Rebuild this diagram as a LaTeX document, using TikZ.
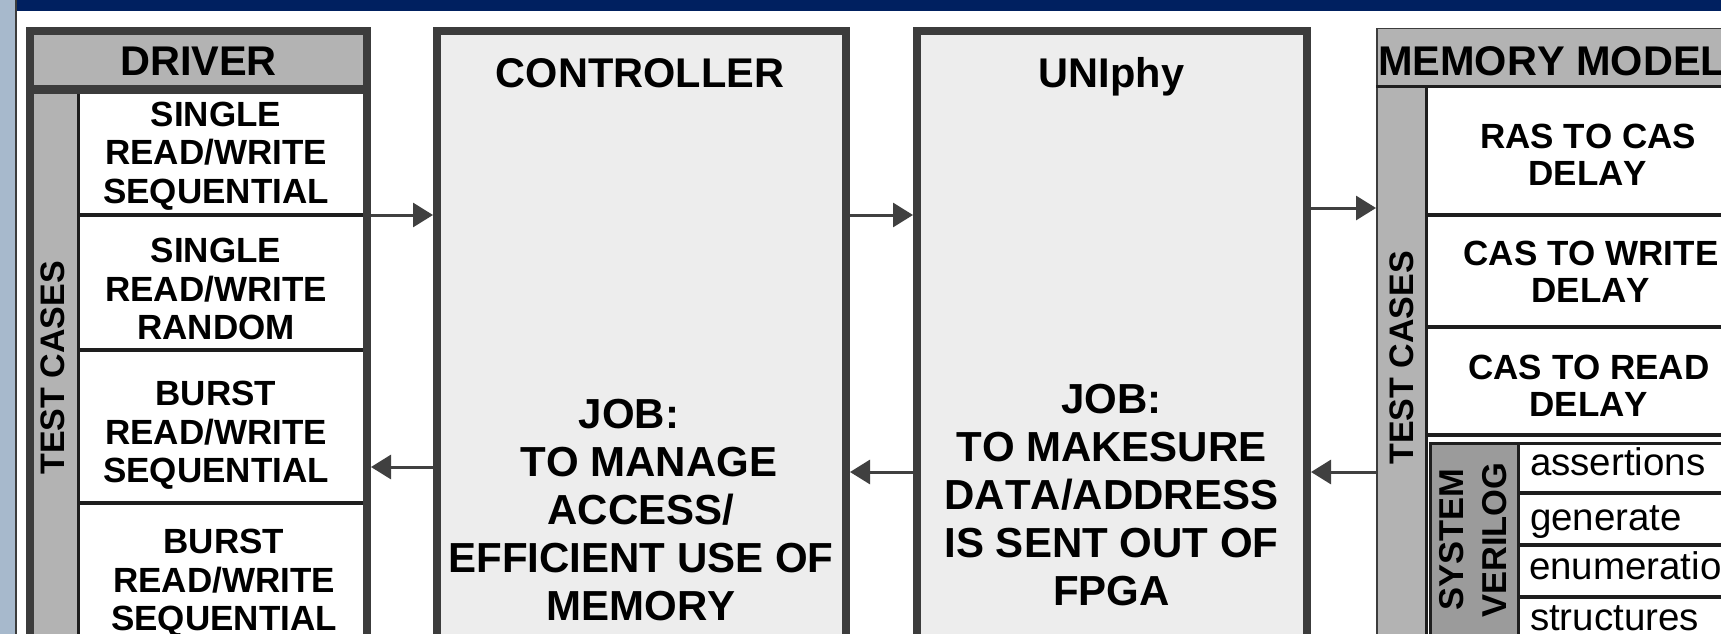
\documentclass[tikz,border=0pt]{standalone}
\usepackage{fontspec}
\setmainfont{Liberation Sans}[Kerning=Off]
\usetikzlibrary{arrows.meta}
\definecolor{navy}{HTML}{002060}
\definecolor{stripc}{HTML}{A7B9CC}
\definecolor{bdr}{HTML}{3C3C3C}
\definecolor{hdr}{HTML}{B3B3B3}
\definecolor{ctlfill}{HTML}{EDEDED}
\definecolor{svfill}{HTML}{9B9B9B}
\definecolor{sepc}{HTML}{1E1E1E}
\definecolor{arrc}{HTML}{404040}
\begin{document}
\begin{tikzpicture}[x=1pt,y=-1pt,
  every node/.style={inner sep=0pt,outer sep=0pt},
  bigbox/.style={draw=bdr,line width=8pt,outer sep=4pt,anchor=north west,minimum height=700pt},
  ttl/.style={anchor=base,font=\bfseries\fontsize{41.5}{47}\selectfont},
  rowtxt/.style={align=center,font=\bfseries\fontsize{35}{38.5}\selectfont},
  memtxt/.style={align=center,font=\bfseries\fontsize{35}{37}\selectfont},
  bodytxt/.style={align=center,font=\bfseries\fontsize{42}{48}\selectfont},
  vtxt/.style={rotate=90,font=\bfseries\fontsize{34}{40}\selectfont},
  svtxt/.style={anchor=base west,font=\fontsize{38.5}{40}\selectfont},
  sepline/.style={draw=sepc,line width=3.5pt},
  arr/.style={draw=arrc,line width=3pt,-{Triangle[length=20pt,width=24pt]}},
]
\useasboundingbox (0,0) rectangle (1721,634);
\clip (0,0) rectangle (1721,634);
\fill[white] (0,0) rectangle (1721,634);
% page decorations
\fill[stripc] (0,0) rectangle (15,634);
\fill[bdr] (15,0) rectangle (17,634);
\fill[navy] (17,0) rectangle (1721,11.5);

% ---------- DRIVER ----------
\node[bigbox,fill=white,minimum width=337pt] (drv) at (26,27) {};
\fill[hdr] (34,35) rectangle (363,85);
\fill[bdr] (34,85) rectangle (363,94);
\fill[hdr] (34,94) rectangle (77,700);
\fill[sepc] (77,94) rectangle (80,700);
\draw[sepline] (80,215) -- (363,215);
\draw[sepline] (80,350) -- (363,350);
\draw[sepline] (80,503) -- (363,503);
\node[ttl] (drvT) at (198.5,75) {DRIVER};
\node[vtxt] (drvTC) at (53,368) {TEST CASES};
\node[rowtxt] (d1) at (216,156) {SINGLE\\READ/WRITE\\SEQUENTIAL};
\node[rowtxt] (d2) at (216,289) {SINGLE\\READ/WRITE\\RANDOM};
\node[rowtxt] (d3) at (216,435.5) {BURST\\READ/WRITE\\SEQUENTIAL};
\node[rowtxt] (d4) at (224,583.5) {BURST\\READ/WRITE\\SEQUENTIAL};

% ---------- CONTROLLER ----------
\node[bigbox,fill=ctlfill,minimum width=409pt] (ctrl) at (433,27.5) {};
\node[ttl] (ctrlT) at (640,87) {CONTROLLER};
\node[bodytxt] (ctrlB) at (641,510) {JOB:\rule{24pt}{0pt}\\\rule{16pt}{0pt}TO MANAGE\\ACCESS/\\EFFICIENT USE OF\\MEMORY};

% ---------- UNIphy ----------
\node[bigbox,fill=ctlfill,minimum width=390pt] (uni) at (913,27.5) {};
\node[ttl] (uniT) at (1111.5,87) {UNIphy};
\node[bodytxt] (uniB) at (1111.5,495) {JOB:\\TO MAKESURE\\DATA/ADDRESS\\IS SENT OUT OF\\FPGA};

% ---------- MEMORY MODEL ----------
\node[draw=bdr,line width=3pt,outer sep=1.5pt,anchor=north west,fill=white,minimum width=420pt,minimum height=700pt] (mem) at (1376,28) {};
\fill[hdr] (1377.5,29.5) rectangle (1800,85);
\fill[sepc] (1376,85) rectangle (1800,88);
\fill[hdr] (1377.5,88) rectangle (1425,700);
\fill[sepc] (1425,88) rectangle (1428,700);
\draw[sepline] (1428,215) -- (1800,215);
\draw[sepline] (1428,327) -- (1800,327);
\draw[sepline] (1428,435) -- (1800,435);
\node[ttl,anchor=base west] (memT) at (1378,75) {MEMORY MODEL};
\node[vtxt] (memTC) at (1401.5,358) {TEST CASES};
\node[memtxt] (m1) at (1588,154.5) {RAS TO CAS\\DELAY};
\node[memtxt] (m2) at (1591,272) {CAS TO WRITE\\DELAY};
\node[memtxt] (m3) at (1589,385.5) {CAS TO READ\\DELAY};
% system verilog block
\fill[svfill] (1430,443) rectangle (1518,700);
\draw[draw=sepc,line width=3pt] (1430.5,443.5) rectangle (1820,720);
\fill[sepc] (1517,443) rectangle (1520,700);
\draw[sepline] (1520,493) -- (1800,493);
\draw[sepline] (1520,545) -- (1800,545);
\draw[sepline] (1520,597) -- (1800,597);
\node[rotate=90,align=center,font=\bfseries\fontsize{34.5}{43}\selectfont] (svT) at (1473,540) {SYSTEM\\VERILOG};
\node[svtxt] (sv1) at (1530,475) {assertions};
\node[svtxt] (sv2) at (1530,530) {generate};
\node[svtxt] (sv3) at (1529,579) {enumeratio};
\node[svtxt] (sv4) at (1530,630) {structures};

% ---------- connectors ----------
\coordinate (yA) at (0,215);
\coordinate (yB) at (0,208);
\coordinate (yC) at (0,467);
\coordinate (yD) at (0,472);
\draw[arr] (drv.east |- yA) -- (ctrl.west |- yA);
\draw[arr] (ctrl.east |- yA) -- (uni.west |- yA);
\draw[arr] (uni.east |- yB) -- (mem.west |- yB);
\draw[arr] (ctrl.west |- yC) -- (drv.east |- yC);
\draw[arr] (uni.west |- yD) -- (ctrl.east |- yD);
\draw[arr] (mem.west |- yD) -- (uni.east |- yD);
\end{tikzpicture}
\end{document}
